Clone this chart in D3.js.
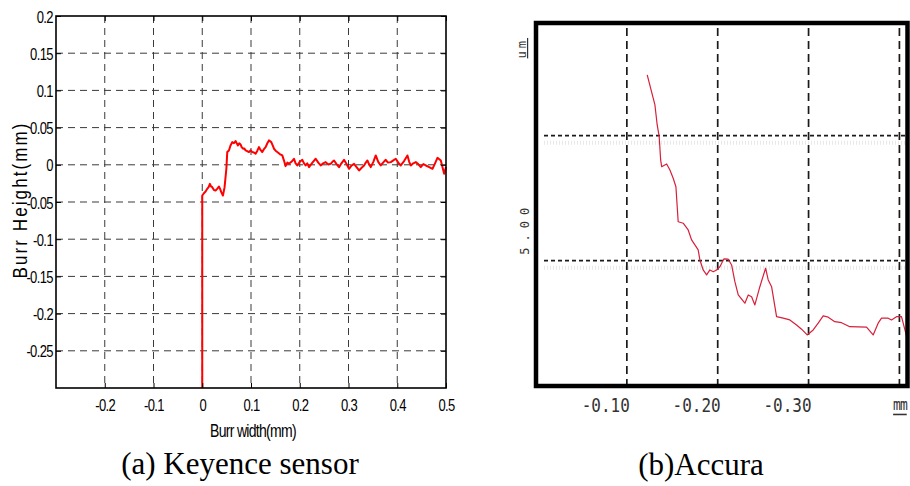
<!DOCTYPE html>
<html><head><meta charset="utf-8">
<script src="https://cdn.jsdelivr.net/npm/d3@7"></script>
<style>body{margin:0;background:#fff} svg{display:block}</style>
</head><body><svg id="c" width="910" height="486"></svg>
<script>
// ---------- (a) Keyence sensor data ----------
const keyenceX = [0,0,0.0034,0.0068,0.0102,0.013,0.0157,0.018,0.0205,0.024,0.0273,0.031,0.0342,0.037,0.039,0.0424,0.0458,0.0495,0.0513,0.0547,0.058,0.0615,0.065,0.0684,0.071,0.0732,0.076,0.0786,0.081,0.0841,0.0865,0.0889,0.092,0.0958,0.099,0.1026,0.106,0.1094,0.113,0.1163,0.1195,0.1231,0.1265,0.13,0.1335,0.1368,0.1416,0.1445,0.1471,0.1505,0.1539,0.159,0.1642,0.1675,0.171,0.1745,0.1779,0.183,0.1882,0.1915,0.195,0.2,0.2053,0.2087,0.2121,0.2155,0.219,0.226,0.2327,0.238,0.2429,0.248,0.2532,0.2585,0.2635,0.267,0.2703,0.2755,0.2806,0.2855,0.2908,0.296,0.3011,0.306,0.3114,0.3165,0.3217,0.327,0.3319,0.3355,0.3388,0.342,0.3456,0.351,0.3559,0.361,0.3661,0.371,0.3764,0.381,0.3867,0.392,0.3969,0.402,0.4072,0.414,0.4209,0.4245,0.4278,0.433,0.438,0.443,0.4483,0.4535,0.4586,0.4655,0.4723,0.4775,0.4825,0.4894,0.4962,0.5];
const keyenceY = [-0.3,-0.0413,-0.0382,-0.036,-0.0323,-0.030,-0.0256,-0.029,-0.0301,-0.034,-0.0346,-0.032,-0.0292,-0.033,-0.0368,-0.0413,-0.0301,-0.005,0.0171,0.0193,0.026,0.0305,0.029,0.0319,0.0285,0.0261,0.029,0.0274,0.0235,0.0216,0.022,0.0193,0.0185,0.0171,0.0195,0.0171,0.0165,0.0148,0.019,0.0238,0.02,0.0171,0.021,0.0238,0.029,0.0328,0.0305,0.026,0.0216,0.019,0.0171,0.0145,0.0126,0.006,-0.0018,0.003,0.0013,0.004,0.0081,0.002,-0.0009,0.004,0.0067,0.002,-0.0009,0.002,-0.0031,0.003,0.0081,0.003,-0.0009,0.002,0.0036,0.0005,0.0013,0.004,0.0058,0.001,-0.0031,0.002,0.0067,0.001,-0.0054,-0.001,0.0013,-0.003,-0.0076,-0.004,-0.0009,0.003,0.0058,0.001,-0.0031,0.004,0.0126,0.004,-0.0009,0.003,0.0067,0.003,0.0036,0.006,0.0081,0.003,-0.0009,0.005,0.0126,0.004,-0.0009,0.002,0.0036,0.001,-0.0031,0.001,-0.0009,-0.003,-0.0054,0.002,0.0094,0.0058,-0.0121,-0.0031];
const kXTicks = [-0.2,-0.1,0,0.1,0.2,0.3,0.4,0.5];
const kXTickLabels = ["-0.2","-0.1","0","0.1","0.2","0.3","0.4","0.5"];
const kYTicks = [0.2,0.15,0.1,0.05,0,-0.05,-0.1,-0.15,-0.2,-0.25];
const kYTickLabels = ["0.2","0.15","0.1","0.05","0","-0.05","-0.1","-0.15","-0.2","-0.25"];
const kXTitle = "Burr width(mm)";
const kYTitle = "Burr Height(mm)";
const kCaption = "(a) Keyence sensor";

// ---------- (b) Accura data ----------
const accuraX = [-0.1224,-0.1290,-0.1309,-0.1334,-0.1356,-0.1372,-0.1383,-0.1438,-0.1474,-0.1510,-0.1540,-0.1565,-0.1620,-0.1675,-0.1713,-0.1749,-0.1785,-0.1804,-0.1840,-0.1878,-0.1914,-0.1951,-0.1988,-0.2024,-0.2068,-0.2116,-0.2153,-0.2189,-0.2226,-0.2299,-0.2336,-0.2373,-0.2409,-0.2464,-0.2527,-0.2556,-0.2593,-0.2648,-0.2721,-0.2794,-0.2868,-0.2923,-0.2985,-0.3051,-0.3106,-0.3161,-0.3216,-0.3289,-0.3363,-0.3454,-0.3638,-0.3711,-0.3766,-0.3803,-0.3876,-0.3913,-0.3968,-0.4023,-0.4070,-0.4085,-0.4098];
const accuraY = [12.43,11.50,11.23,10.43,9.96,9.03,8.76,8.87,8.63,8.30,7.96,6.56,6.50,6.23,5.83,5.63,5.43,5.03,4.63,4.43,4.63,4.56,4.63,4.76,5.07,5.06,4.83,4.16,3.63,3.30,3.63,3.56,3.23,3.96,4.70,4.23,3.96,2.76,2.70,2.63,2.43,2.26,2.03,2.23,2.50,2.79,2.74,2.56,2.52,2.36,2.34,2.03,2.50,2.70,2.70,2.63,2.76,2.76,2.10,1.83,3.23];
const aXTicks = [-0.1,-0.2,-0.3,-0.4];
const aXTickLabels = ["-0.10","-0.20","-0.30","mm"];
const aYGrid = [10,5];
const aYLabel = "5.00";
const aYLabelValue = 5;
const aYUnit = "um";
const aYUnitValue = 13.5;
const aCaption = "(b)Accura";

const svg = d3.select("#c");

// ===== Panel (a) =====
const L = {x0:56, x1:446, y0:16, y1:388};
const xK = d3.scaleLinear().domain([-0.3,0.5]).range([L.x0,L.x1]);
const yK = d3.scaleLinear().domain([-0.3,0.2]).range([L.y1,L.y0]);
const gA = svg.append("g");

gA.selectAll(".vg").data(kXTicks.filter(d=>d<0.5)).join("line")
  .attr("x1",d=>xK(d)).attr("x2",d=>xK(d)).attr("y1",L.y0).attr("y2",L.y1)
  .attr("stroke","#3a3a3a").attr("stroke-width",1).attr("stroke-dasharray","7,5");
gA.selectAll(".hg").data(kYTicks.filter(d=>d<0.2)).join("line")
  .attr("x1",L.x0).attr("x2",L.x1).attr("y1",d=>yK(d)).attr("y2",d=>yK(d))
  .attr("stroke","#3a3a3a").attr("stroke-width",1).attr("stroke-dasharray","7,5");

const lineK = d3.line().x(d=>xK(d[0])).y(d=>yK(d[1]));
gA.append("path").datum(keyenceX.map((x,i)=>[x,keyenceY[i]]))
  .attr("d",lineK).attr("fill","none").attr("stroke","#ff0000").attr("stroke-width",2)
  .attr("stroke-linejoin","round");

const fontA = "'Liberation Sans', Arial, sans-serif";
const axB = gA.append("g").attr("transform",`translate(0,${L.y1})`)
  .call(d3.axisBottom(xK).tickValues(kXTicks).tickSize(-5).tickFormat((d,i)=>kXTickLabels[i]));
const axL = gA.append("g").attr("transform",`translate(${L.x0},0)`)
  .call(d3.axisLeft(yK).tickValues(kYTicks).tickSize(-5).tickFormat((d,i)=>kYTickLabels[i]));
const axT = gA.append("g").attr("transform",`translate(0,${L.y0})`)
  .call(d3.axisTop(xK).tickValues(kXTicks).tickSize(-5).tickFormat(""));
const axR = gA.append("g").attr("transform",`translate(${L.x1},0)`)
  .call(d3.axisRight(yK).tickValues(kYTicks).tickSize(-5).tickFormat(""));
[axB,axL,axT,axR].forEach(a=>{
  a.select(".domain").remove();
  a.selectAll("line").attr("stroke","#000");
  a.selectAll("text").attr("font-family",fontA).attr("font-size",13)
    .attr("letter-spacing","-0.6px").attr("fill","#000");
});
axB.selectAll(".tick text").attr("y",null).attr("dy",null).attr("x",null)
  .attr("dominant-baseline","central").attr("transform","translate(0,17) scale(1,1.3)");
axL.selectAll(".tick text").attr("y",null).attr("dy",null).attr("x",null)
  .attr("dominant-baseline","central").attr("transform","translate(-3,0) scale(1,1.3)");

gA.append("rect").attr("x",L.x0).attr("y",L.y0).attr("width",L.x1-L.x0).attr("height",L.y1-L.y0)
  .attr("fill","none").attr("stroke","#000").attr("stroke-width",1.6);

gA.append("text").attr("transform",`translate(${(L.x0+L.x1)/2+2},430) scale(1,1.3)`)
  .attr("dominant-baseline","central")
  .attr("text-anchor","middle").attr("font-family",fontA).attr("font-size",14)
  .attr("letter-spacing","-0.7px").text(kXTitle);
gA.append("text").attr("transform","translate(20,200) rotate(-90) scale(1,1.2)")
  .attr("dominant-baseline","central")
  .attr("text-anchor","middle").attr("font-family",fontA).attr("font-size",17)
  .attr("letter-spacing","2.1px").text(kYTitle);
gA.append("text").attr("x",240).attr("y",474).attr("text-anchor","middle")
  .attr("font-family","'Liberation Serif','Times New Roman',serif").attr("font-size",31)
  .text(kCaption);

// ===== Panel (b) =====
const R = {x0:536, x1:907.5, y0:23, y1:386};
const xA = d3.scaleLinear().domain([0,-0.41]).range([536,908.5]);
const yA = d3.scaleLinear().domain([0,14.5]).range([385.7,23.2]);
const gB = svg.append("g");

gB.selectAll(".hs").data(aYGrid).join("line")
  .attr("x1",R.x0+8).attr("x2",R.x1).attr("y1",d=>yA(d)+7).attr("y2",d=>yA(d)+7)
  .attr("stroke","#e8e8e8").attr("stroke-width",4).attr("stroke-dasharray","1,2");
gB.selectAll(".vg").data(aXTicks).join("line")
  .attr("x1",d=>xA(d)).attr("x2",d=>xA(d)).attr("y1",R.y0+5).attr("y2",R.y1)
  .attr("stroke","#1a1a1a").attr("stroke-width",1.7).attr("stroke-dasharray","8,5");
gB.selectAll(".hg").data(aYGrid).join("line")
  .attr("x1",R.x0+8).attr("x2",R.x1).attr("y1",d=>yA(d)).attr("y2",d=>yA(d))
  .attr("stroke","#1a1a1a").attr("stroke-width",1.8).attr("stroke-dasharray","4,3");

const lineA = d3.line().x(d=>xA(d[0])).y(d=>yA(d[1]));
gB.append("path").datum(accuraX.map((x,i)=>[x,accuraY[i]]))
  .attr("d",lineA).attr("fill","none").attr("stroke","#d6203a").attr("stroke-width",1.2)
  .attr("stroke-linejoin","round");

gB.append("rect").attr("x",R.x0).attr("y",R.y0).attr("width",R.x1-R.x0).attr("height",R.y1-R.y0)
  .attr("fill","none").attr("stroke","#000").attr("stroke-width",4.5);

const fontB = "'DejaVu Sans Mono', monospace";
gB.selectAll(".xl").data(aXTicks).join("text")
  .attr("transform",(d,i)=>`translate(${aXTickLabels[i]==="mm" ? xA(d)+0.5 : xA(d)+3},405) scale(1,1.2)`)
  .attr("dominant-baseline","central")
  .attr("text-anchor",(d,i)=>aXTickLabels[i]==="mm" ? "middle" : "end")
  .attr("font-family",fontB)
  .attr("font-size",(d,i)=>aXTickLabels[i]==="mm" ? 13 : 16)
  .attr("letter-spacing",(d,i)=>aXTickLabels[i]==="mm" ? "-1px" : "0px")
  .attr("text-decoration",(d,i)=>aXTickLabels[i]==="mm" ? "underline" : "none")
  .attr("fill","#333").text((d,i)=>aXTickLabels[i]);
gB.append("text").attr("transform",`translate(529,${yA(aYLabelValue)-6}) rotate(-90)`)
  .attr("font-family",fontB).attr("font-size",12).attr("letter-spacing","6px")
  .attr("fill","#333").text(aYLabel);
gB.append("text").attr("transform",`translate(526,${yA(aYUnitValue)}) rotate(-90)`)
  .attr("text-anchor","middle").attr("font-family",fontB).attr("font-size",12)
  .attr("letter-spacing","3px").attr("text-decoration","underline")
  .attr("fill","#333").text(aYUnit);
gB.append("text").attr("x",701).attr("y",475).attr("text-anchor","middle")
  .attr("font-family","'Liberation Serif','Times New Roman',serif").attr("font-size",31)
  .text(aCaption);
</script></body></html>
